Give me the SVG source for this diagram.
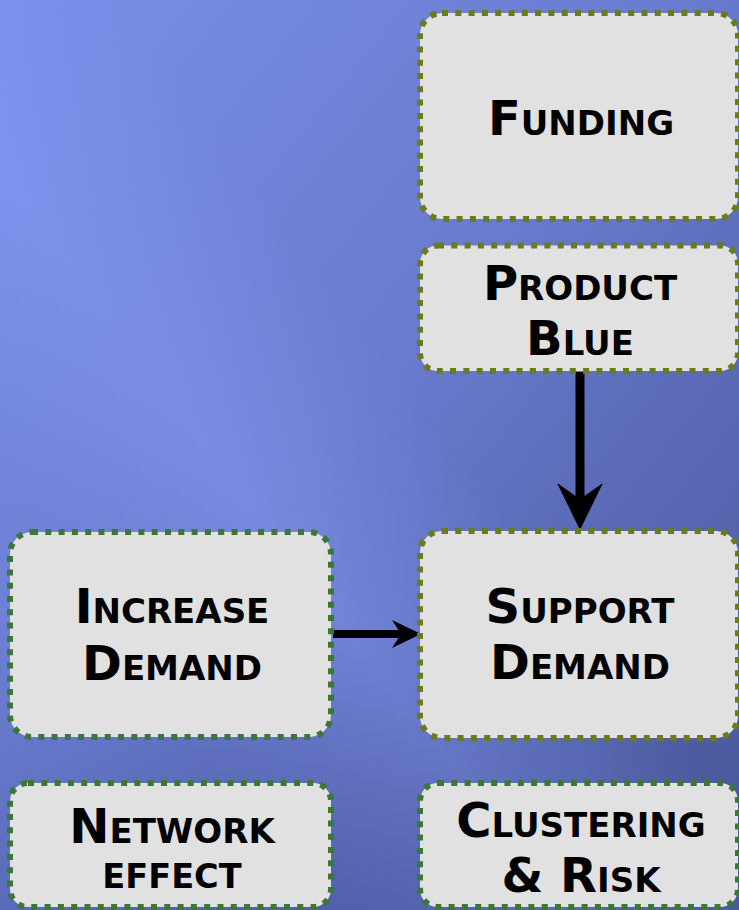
<svg xmlns="http://www.w3.org/2000/svg" width="739" height="910" viewBox="0 0 739 910">
<style>
.box{fill:#e1e1e1;stroke-width:6;stroke-dasharray:6 7.3;}
.olive{stroke:#6a7a1c;}
.green{stroke:#3b773b;}
.lbl{font-family:"DejaVu Sans","Liberation Sans",sans-serif;font-weight:bold;font-size:48px;font-variant:small-caps;fill:#000;text-anchor:middle;}
.lbl.sc{font-size:33.6px;font-variant:normal;}
.conn{stroke:#000;fill:none;}
</style>
<defs>
<linearGradient id="bg" x1="0" y1="0" x2="1" y2="1">
<stop offset="0" stop-color="#7a8eea"/>
<stop offset="0.45" stop-color="#6a7ccf"/>
<stop offset="0.75" stop-color="#5666b0"/>
<stop offset="1" stop-color="#4a5799"/>
</linearGradient>
<linearGradient id="band" gradientUnits="userSpaceOnUse" x1="-40" y1="440" x2="270" y2="205">
<stop offset="0" stop-color="#8fa2ff" stop-opacity="0"/>
<stop offset="0.5" stop-color="#8fa2ff" stop-opacity="0.35"/>
<stop offset="1" stop-color="#8fa2ff" stop-opacity="0"/>
</linearGradient>
<linearGradient id="dark" gradientUnits="userSpaceOnUse" x1="0" y1="620" x2="0" y2="910">
<stop offset="0" stop-color="#3e4b90" stop-opacity="0"/>
<stop offset="1" stop-color="#3e4b90" stop-opacity="0.3"/>
</linearGradient>
</defs>
<rect x="0" y="0" width="739" height="910" fill="url(#bg)"/>
<rect x="0" y="0" width="739" height="910" fill="url(#band)"/>
<rect x="0" y="0" width="739" height="910" fill="url(#dark)"/>

<g id="connectors">
<line class="conn" x1="580" y1="372" x2="580" y2="505" stroke-width="9"/>
<polygon points="580,530 557,483 580,499 603,483" fill="#000"/>
<line class="conn" x1="333" y1="634" x2="405" y2="634" stroke-width="8"/>
<polygon points="421,634 392,620 401,634 392,648" fill="#000"/>
</g>

<g id="funding">
<rect class="box olive" x="420" y="13" width="318" height="206" rx="22"/>
<text class="lbl" x="581" y="135">Funding</text>
</g>
<g id="product-blue">
<rect class="box olive" x="420" y="245.5" width="318" height="125.5" rx="18"/>
<text class="lbl" x="580" y="300">Product<tspan x="580" y="355">Blue</tspan></text>
</g>
<g id="support-demand">
<rect class="box olive" x="420" y="531" width="318" height="207" rx="22"/>
<text class="lbl" x="580" y="623">Support<tspan x="580" y="679">Demand</tspan></text>
</g>
<g id="increase-demand">
<rect class="box green" x="10" y="532" width="321" height="205" rx="22"/>
<text class="lbl" x="172" y="623">Increase<tspan x="172" y="680">Demand</tspan></text>
</g>
<g id="network-effect">
<rect class="box green" x="10" y="783" width="321" height="124" rx="18"/>
<text class="lbl" x="172" y="843">Network</text>
<text class="lbl sc" x="172" y="888">EFFECT</text>
</g>
<g id="clustering-risk">
<rect class="box green" x="420" y="783" width="318" height="124" rx="18"/>
<text class="lbl" x="581" y="837">Clustering<tspan x="581" y="892">&amp; Risk</tspan></text>
</g>
</svg>
